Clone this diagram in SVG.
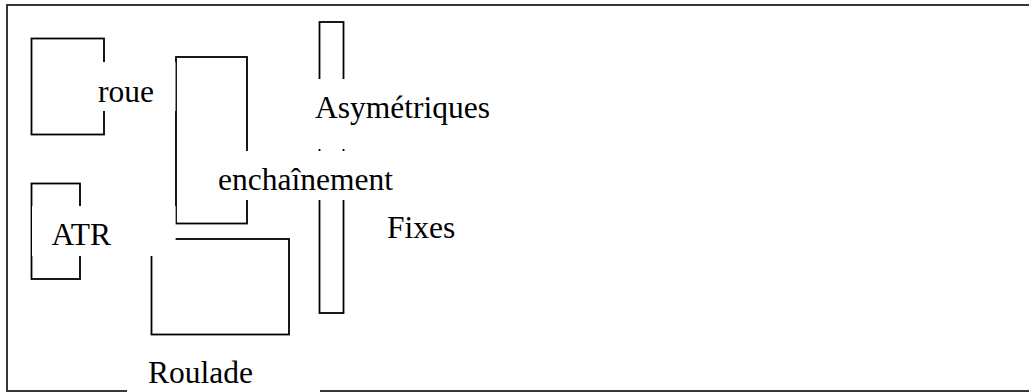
<svg xmlns="http://www.w3.org/2000/svg" width="1029" height="392" viewBox="0 0 1029 392">
<style>
.box{fill:none;stroke:#000;stroke-width:1.8}
.frame{fill:none;stroke:#222;stroke-width:1.8}
.mask{fill:#fff;stroke:none}
text{font-family:'Liberation Serif','Times New Roman',Times,serif;font-size:31.5px;fill:#000}
</style>
<rect width="1029" height="392" fill="#fff"/>
<g id="frame"><rect class="frame" x="7" y="5" width="1040" height="386"/></g>
<g id="connectors"/>
<g id="asymetriques">
<rect class="box" x="319.5" y="22" width="24" height="291"/>
<rect class="mask" x="305" y="79" width="195" height="70"/>
<text x="315" y="118" font-family="Liberation Serif, serif">Asymétriques</text>
</g>
<g id="enchainement">
<rect class="box" x="176" y="57" width="71" height="166.5"/>
<rect class="mask" x="200" y="151" width="205" height="49"/>
<text x="218" y="190" font-family="Liberation Serif, serif">enchaînement</text>
</g>
<g id="roue">
<rect class="box" x="31.5" y="38.5" width="72.5" height="96"/>
<rect class="mask" x="90" y="62" width="85.5" height="49"/>
<text x="98" y="101.5" font-family="Liberation Serif, serif">roue</text>
</g>
<g id="roulade">
<rect class="box" x="151.5" y="239" width="137.5" height="95.5"/>
<rect class="mask" x="127" y="345" width="193" height="47"/>
<text x="148" y="383" font-family="Liberation Serif, serif">Roulade</text>
</g>
<g id="atr">
<rect class="box" x="31.5" y="183.5" width="48.5" height="95.5"/>
<rect class="mask" x="32" y="206" width="143.6" height="50"/>
<text x="51.5" y="245" font-family="Liberation Serif, serif">ATR</text>
</g>
<g id="fixes">
<text x="387" y="238" font-family="Liberation Serif, serif">Fixes</text>
</g>
</svg>
